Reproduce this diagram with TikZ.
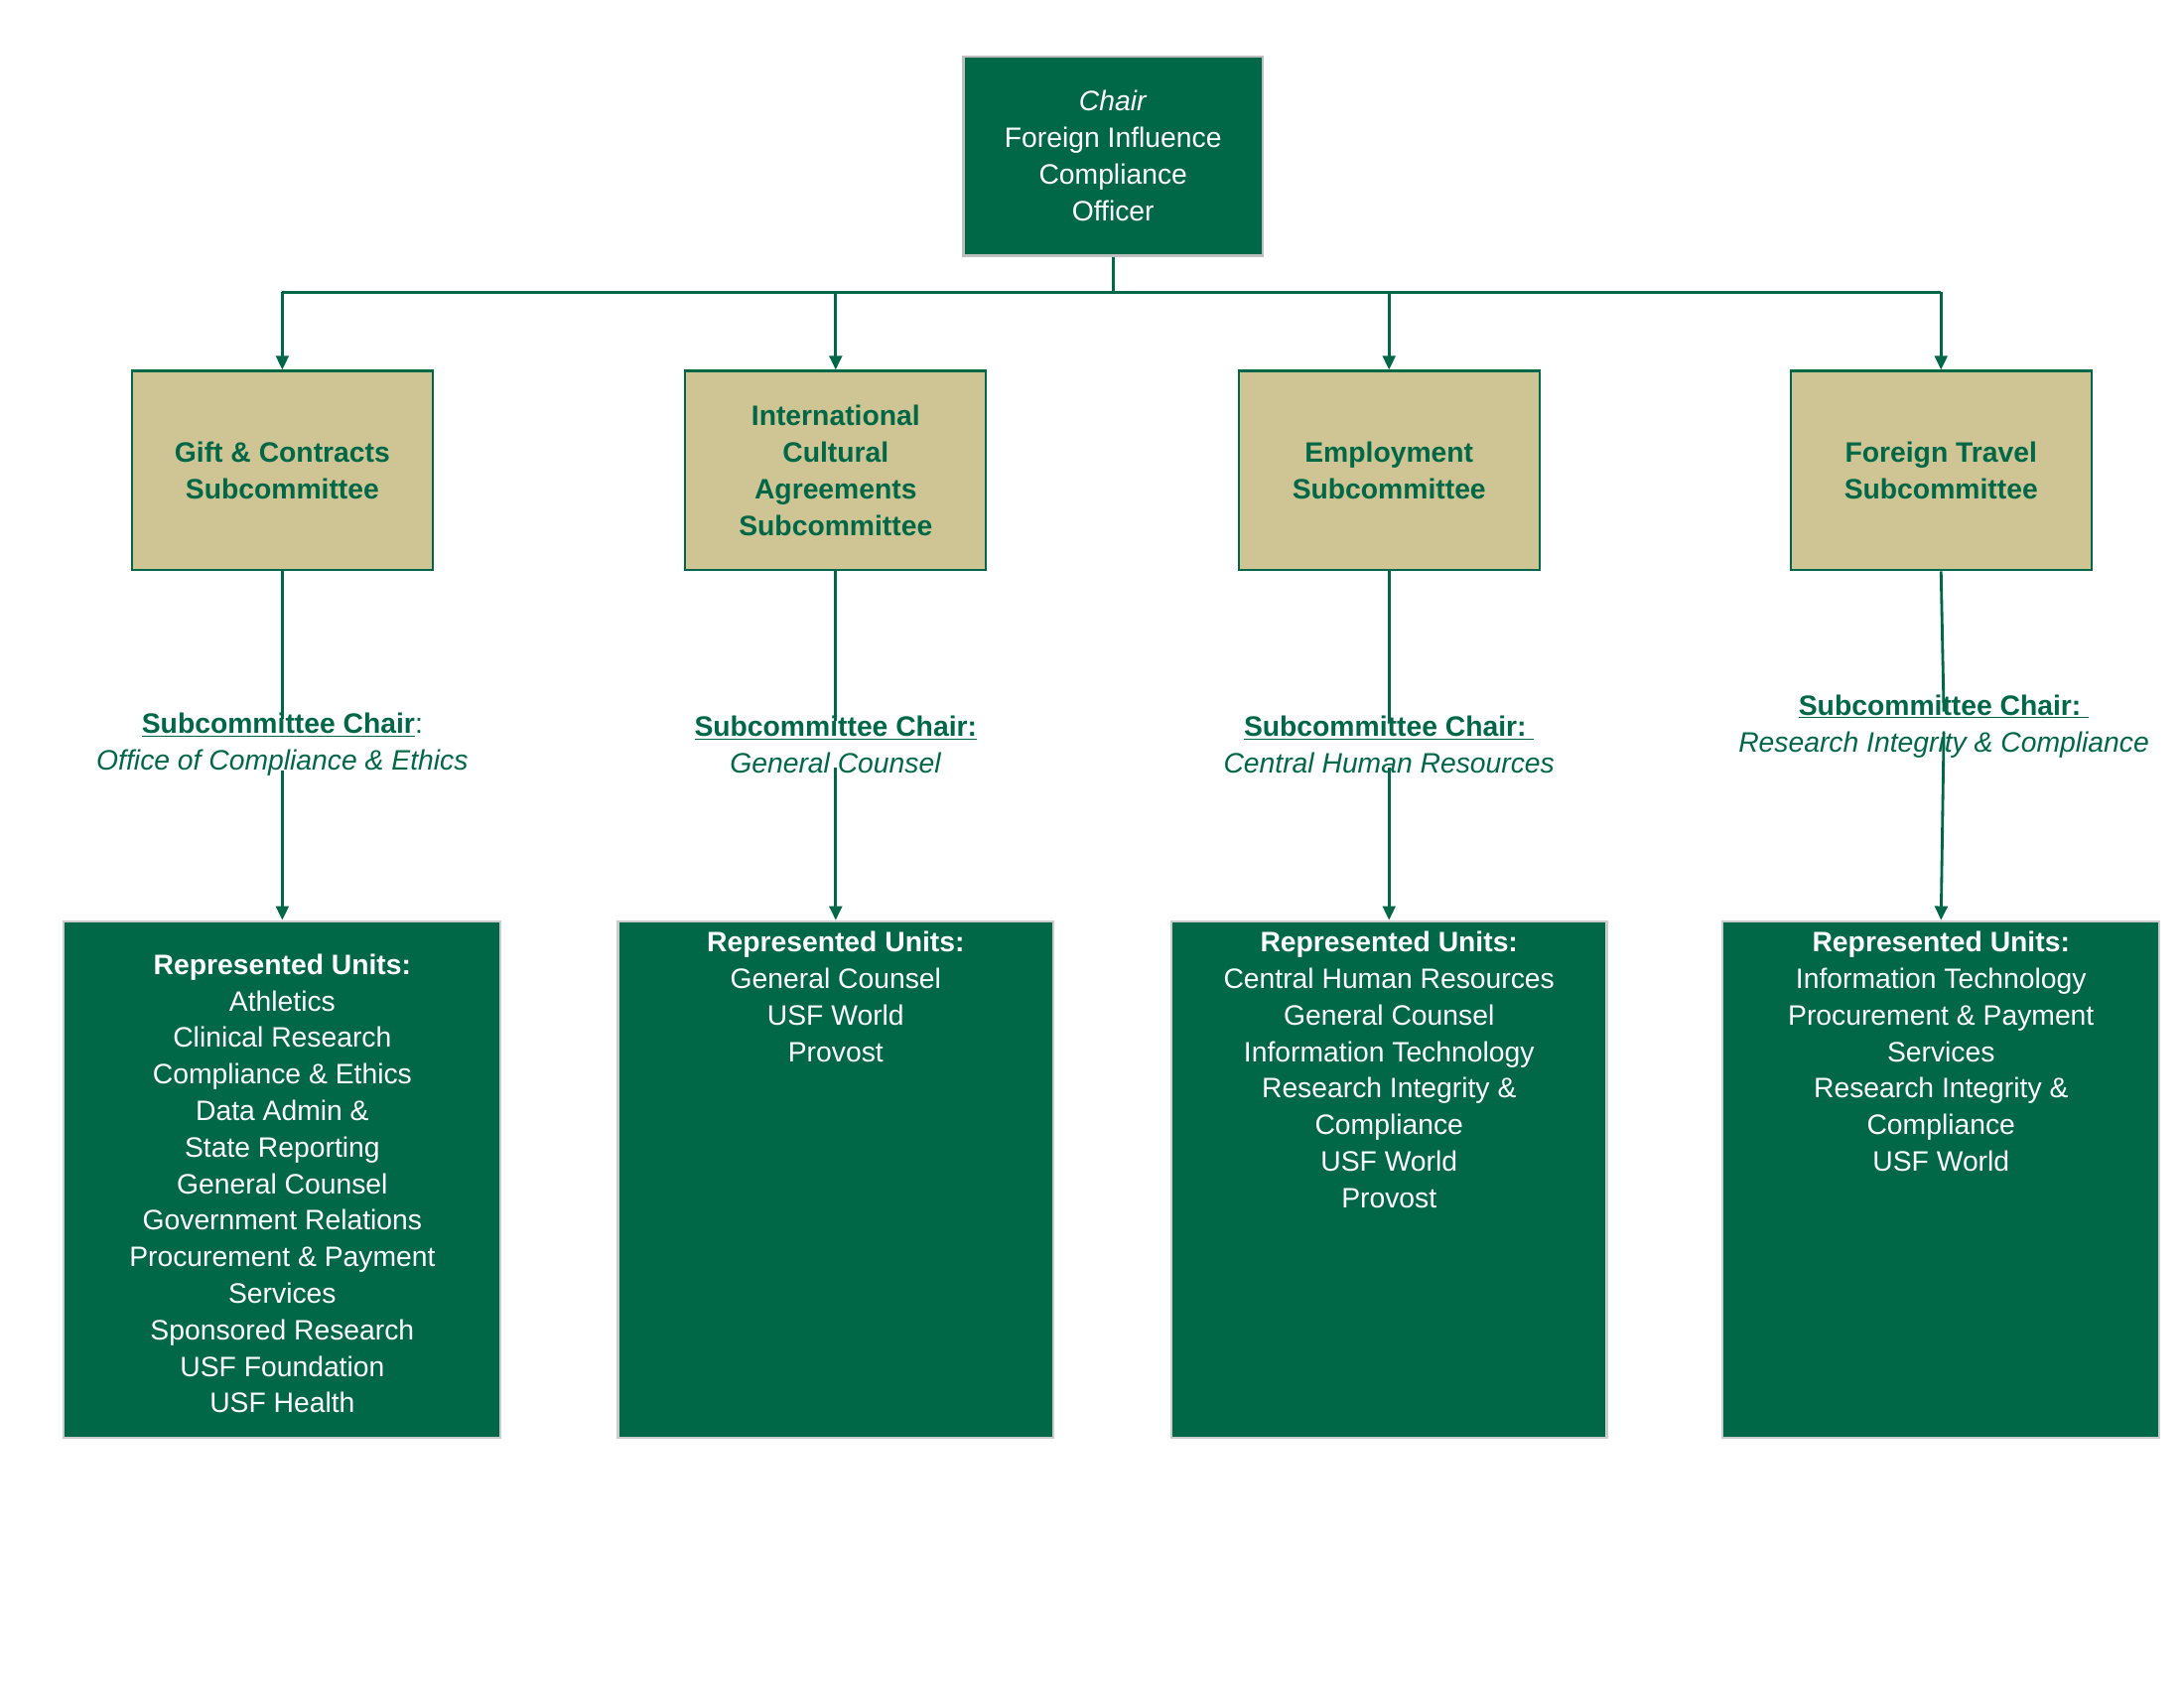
\documentclass[tikz,border=0pt]{standalone}
\usepackage{fontspec}
\setmainfont{Liberation Sans}
\usetikzlibrary{arrows.meta}
\definecolor{usfg}{HTML}{006747}
\definecolor{usft}{HTML}{CFC493}
\begin{document}
\begin{tikzpicture}[x=1pt,y=-1pt,
  every node/.style={font=\fontsize{20}{26}\selectfont, align=center, inner sep=0},
  top/.style={draw=gray!50, line width=1.5pt, fill=usfg, text=white, minimum width=213pt, minimum height=142pt},
  sub/.style={draw=usfg, line width=1.5pt, fill=usft, text=usfg, minimum width=214pt, minimum height=142pt, font=\fontsize{20}{26}\selectfont\bfseries},
  unit/.style={draw=gray!40, line width=1.5pt, fill=usfg, text=white, minimum width=311pt, minimum height=368pt, anchor=north},
  lab/.style={text=usfg},
  con/.style={draw=usfg, line width=2pt},
  arr/.style={con, -{Triangle[length=10pt,width=9pt]}}]
\useasboundingbox (0,0) rectangle (1555,1202);
\node[top] (chair) at (792.5,111) {\textit{Chair}\\Foreign Influence\\Compliance\\Officer};
\coordinate (bus) at (792.5,208);
\foreach \i/\x in {1/201,2/595,3/989,4/1382}{
  \coordinate (b\i) at (\x,208);
}
\draw[con] (chair.south) -- (bus);
\draw[con] (b1) -- (b4);
\node[sub] (s1) at (201,335) {Gift \& Contracts\\Subcommittee};
\node[sub] (s2) at (595,335) {International\\Cultural\\Agreements\\Subcommittee};
\node[sub] (s3) at (989,335) {Employment\\Subcommittee};
\node[sub] (s4) at (1382,335) {Foreign Travel\\Subcommittee};
\foreach \i in {1,2,3,4}{\draw[arr] (b\i) -- (s\i.north);}
\node[lab] (l1) at (201,530) {\textbf{\underline{Subcommittee Chair}}:\\\textit{Office of Compliance \& Ethics}};
\node[lab] (l2) at (595,530) {\textbf{\underline{Subcommittee Chair:}}\\\textit{General Counsel}};
\node[lab] (l3) at (989,530) {\textbf{\underline{Subcommittee Chair:\ }}\\\textit{Central Human Resources}};
\node[lab] (l4) at (1384,517) {\textbf{\underline{Subcommittee Chair:\ }}\\\textit{Research Integrity \& Compliance}};
\node[unit] (u1) at (201,655) {\\[-6pt]\textbf{Represented Units:}\\Athletics\\Clinical Research\\Compliance \& Ethics\\Data Admin \&\\State Reporting\\General Counsel\\Government Relations\\Procurement \& Payment\\Services\\Sponsored Research\\USF Foundation\\USF Health};
\node[unit, minimum width=310pt] (u2) at (595,655) {};
\node[anchor=north,text=white] at (595,663) {\textbf{Represented Units:}\\General Counsel\\USF World\\Provost};
\node[unit, minimum width=310pt] (u3) at (989,655) {};
\node[anchor=north,text=white] at (989,663) {\textbf{Represented Units:}\\Central Human Resources\\General Counsel\\Information Technology\\Research Integrity \&\\Compliance\\USF World\\Provost};
\node[unit] (u4) at (1382,655) {};
\node[anchor=north,text=white] at (1382,663) {\textbf{Represented Units:}\\Information Technology\\Procurement \& Payment\\Services\\Research Integrity \&\\Compliance\\USF World};
\foreach \i in {1,2,3}{
  \draw[con] (s\i.south) -- ([yshift=-4pt]l\i.north);
  \draw[arr] ([yshift=4pt]l\i.south) -- (u\i.north);
}
\draw[con] (s4.south) -- ([yshift=-12pt]l4.north);
\draw[arr] ([yshift=18pt]l4.south) -- (u4.north);
\end{tikzpicture}
\end{document}
